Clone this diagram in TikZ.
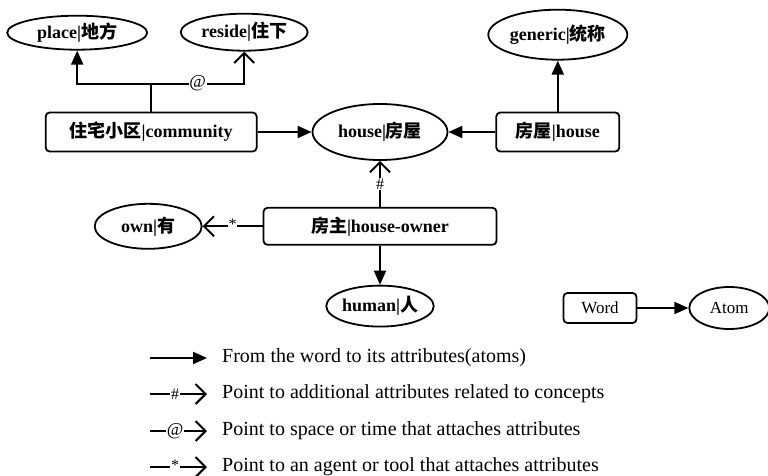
\documentclass[tikz,border=0pt]{standalone}
\usepackage{fontspec}
\setmainfont{Liberation Serif}
\newfontfamily\cjk{Noto Sans CJK SC}
\usetikzlibrary{arrows.meta, positioning, shapes.geometric}
\newcommand{\zh}[1]{{\cjk #1}}

\begin{document}
\begin{tikzpicture}[
    x=1pt, y=-1pt,
    word/.style={draw, rectangle, rounded corners=4pt, line width=1.8pt, minimum height=39pt, inner sep=2pt, font=\fontsize{18}{21}\selectfont\bfseries},
    atom/.style={draw, ellipse, line width=1.8pt, inner sep=0pt, font=\fontsize{18}{21}\selectfont\bfseries},
    arrow/.style={-{Triangle[length=14pt, width=12pt]}, line width=2pt},
    relarrow/.style={-{Straight Barb[length=10pt, width=20pt]}, line width=2pt},
    rellabel/.style={fill=white, inner sep=0.8pt, font=\fontsize{16}{18}\selectfont},
    keytext/.style={anchor=west, inner sep=0pt, font=\fontsize{20}{23}\selectfont}
]
    \useasboundingbox (0,0) rectangle (768,476);

    % Nodes
    \node[atom, minimum width=135pt, minimum height=56pt] (house) at (380,132) {house|\zh{房屋}};
    \node[word, minimum width=211pt] (community) [left=54pt of house] {\zh{住宅小区}|community};
    \node[word, minimum width=123pt] (househw) [right=47pt of house] {\zh{房屋}|house};
    \node[word, minimum width=233pt, minimum height=37pt] (owner) [below=46pt of house] {\zh{房主}|house-owner};
    \node[atom, minimum width=103pt, minimum height=41pt] (human) [below=39pt of owner] {human|\zh{人}};
    \node[atom, minimum width=107pt, minimum height=45pt] (own) [left=60pt of owner] {own|\zh{有}};
    \node[atom, minimum width=139pt, minimum height=50pt] (generic) [above=51pt of househw] {generic|\zh{统称}};
    \node[atom, minimum width=140pt, minimum height=34pt] (place) [above=61pt of community, xshift=-74pt] {place|\zh{地方}};
    \node[atom, minimum width=127pt, minimum height=37pt] (reside) [above=60pt of community, xshift=93pt] {reside|\zh{住下}};
    \coordinate (split) at ([yshift=28pt]community.north);

    % Connections
    \draw[arrow] (community.north) -- (split) -| (place.south);
    \draw[relarrow] (split) -| node[rellabel, pos=0.25, font=\fontsize{18}{20}\selectfont] {@} (reside.south);
    \draw[arrow] (community) -- (house);
    \draw[arrow] (househw) -- (house);
    \draw[arrow] (househw) -- (generic);
    \draw[relarrow] (owner) -- node[rellabel] {\#} (house);
    \draw[relarrow] (owner) -- node[rellabel, yshift=2pt] {*} (own);
    \draw[arrow] (owner) -- (human);

    % Word / atom key
    \node[word, minimum width=73pt, minimum height=30pt, font=\fontsize{17}{20}\selectfont] (wordkey) at (600,308) {Word};
    \node[atom, minimum width=80pt, minimum height=42pt, font=\fontsize{17}{20}\selectfont] (atomkey) [right=51pt of wordkey] {Atom};
    \draw[arrow] (wordkey) -- (atomkey);

    % Legend
    \coordinate (k1a) at (150,358); \coordinate (k1b) at (207,358);
    \coordinate (k2a) at (150,394); \coordinate (k2b) at (207,394);
    \coordinate (k3a) at (150,431); \coordinate (k3b) at (207,431);
    \coordinate (k4a) at (150,467); \coordinate (k4b) at (207,467);
    \draw[arrow] (k1a) -- (k1b);
    \draw[relarrow] (k2a) -- node[rellabel, pos=0.44] {\#} (k2b);
    \draw[relarrow] (k3a) -- node[rellabel, pos=0.44, font=\fontsize{18}{20}\selectfont] {@} (k3b);
    \draw[relarrow] (k4a) -- node[rellabel, pos=0.44, yshift=2pt] {*} (k4b);
    \node[keytext] (k1t) at (222,358) {From the word to its attributes(atoms)};
    \node[keytext] (k2t) at (222,394) {Point to additional attributes related to concepts};
    \node[keytext] (k3t) at (222,431) {Point to space or time that attaches attributes};
    \node[keytext] (k4t) at (222,467) {Point to an agent or tool that attaches attributes};
\end{tikzpicture}
\end{document}
